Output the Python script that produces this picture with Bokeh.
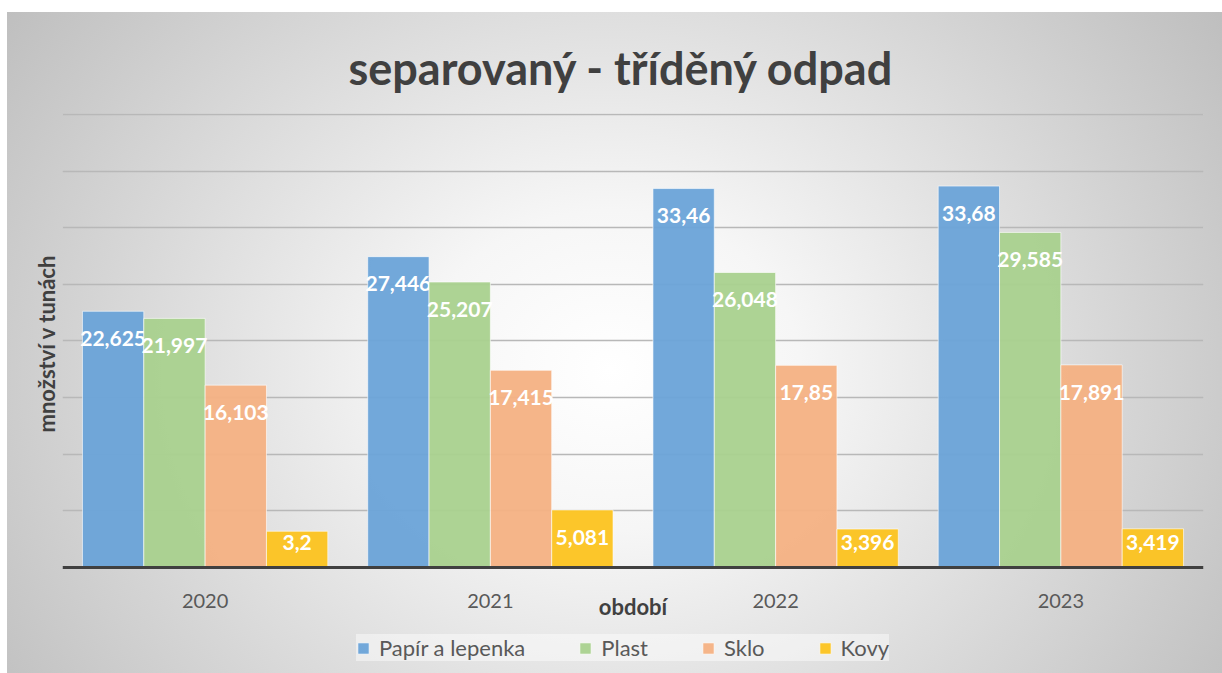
from bokeh.plotting import figure
from bokeh.models import (ColumnDataSource, FactorRange, Range1d, Legend, LegendItem,
                          FixedTicker, Grid, Title)
from bokeh.transform import dodge
from bokeh.core.properties import value
from bokeh.embed import file_html
from bokeh.resources import INLINE

# ---- data ----
years = ["2020", "2021", "2022", "2023"]
series_names = ["Papír a lepenka", "Plast", "Sklo", "Kovy"]
papir = [22.625, 27.446, 33.46, 33.68]
plast = [21.997, 25.207, 26.048, 29.585]
sklo = [16.103, 17.415, 17.85, 17.891]
kovy = [3.2, 5.081, 3.396, 3.419]
series_values = [papir, plast, sklo, kovy]
grid_ticks = [5, 10, 15, 20, 25, 30, 35, 40]

colors = ["#6aa3d8", "#a9d18e", "#f4b183", "#fcc31f"]
FONT = "Lato"

# the frame reaches down to the legend, the category axis sits at y = 0
p = figure(width=1222, height=673,
           x_range=FactorRange(*years), y_range=Range1d(-9.095, 40.088),
           y_axis_location=None,
           output_backend="svg", toolbar_location=None,
           min_border_left=62, min_border_right=19,
           min_border_top=113, min_border_bottom=3,
           styles={"background":
                   "linear-gradient(#ffffff, #ffffff) top left / 100% 12px no-repeat, "
                   "linear-gradient(#ffffff, #ffffff) top left / 7px 100% no-repeat, "
                   "radial-gradient(ellipse 62% 95% at 50% 55%, #ffffff 0%, #f6f6f6 25%, #bdbdbd 100%)"})
p.background_fill_alpha = 0
p.border_fill_alpha = 0
p.outline_line_color = None

# title
p.title.text = "separovaný - tříděný odpad"
p.title.align = "left"
p.title.offset = 286
p.title.text_font = FONT
p.title.text_font_style = "bold"
p.title.text_font_size = "45px"
p.title.text_color = "#404040"
p.title.standoff = 37

# horizontal grid lines every 5 t (the value axis has no tick labels)
p.xgrid.grid_line_color = None
p.add_layout(Grid(dimension=1, ticker=FixedTicker(ticks=grid_ticks),
                  grid_line_color="#b8b8b8", grid_line_width=1.3))

# value-axis title
p.add_layout(Title(text="množství v tunách", align="left", offset=238, text_font=FONT,
                   text_font_style="bold", text_font_size="22px",
                   text_color="#404040", standoff=6), "left")

# x axis at y = 0
p.xaxis.fixed_location = 0
p.xaxis.axis_line_color = "#404040"
p.xaxis.axis_line_width = 3
p.xaxis.major_tick_line_color = None
p.xaxis.minor_tick_line_color = None
p.xaxis.major_label_text_font = FONT
p.xaxis.major_label_text_font_size = "20px"
p.xaxis.major_label_text_color = "#595959"
p.xaxis.major_label_standoff = 21
p.xaxis.axis_label = "období"
p.xaxis.axis_label_text_font = FONT
p.xaxis.axis_label_text_font_style = "bold"
p.xaxis.axis_label_text_font_size = "22px"
p.xaxis.axis_label_text_color = "#404040"
p.xaxis.axis_label_standoff = -19

bar_w = 0.215
offsets = [-1.5 * bar_w, -0.5 * bar_w, 0.5 * bar_w, 1.5 * bar_w]

items = []
for name, vals, col, off in zip(series_names, series_values, colors, offsets):
    src = ColumnDataSource(dict(
        year=years,
        v=vals,
        lab=[str(v).replace(".", ",") for v in vals],
        ly=[max(v - 2.4, 2.2) for v in vals],
    ))
    r = p.vbar(x=dodge("year", off, range=p.x_range), top="v", width=bar_w,
               source=src, fill_color=col, fill_alpha=0.95,
               line_color="#ffffff", line_alpha=0.6, line_width=1)
    p.text(x=dodge("year", off, range=p.x_range), y="ly", text="lab", source=src,
           text_color="#ffffff", text_font=value(FONT), text_font_style="bold",
           text_font_size="21px", text_align="center", text_baseline="middle")
    items.append(LegendItem(label=name, renderers=[r]))

legend = Legend(items=items, orientation="horizontal", location=(294, 9),
                padding=8, spacing=53, label_standoff=9, margin=0,
                glyph_width=14, glyph_height=14,
                label_text_font=FONT, label_text_font_size="22px",
                label_text_color="#595959",
                background_fill_color="#ffffff", background_fill_alpha=0.45,
                border_line_color=None)
p.add_layout(legend, "center")

open("out.html", "w").write(file_html(p, INLINE))
